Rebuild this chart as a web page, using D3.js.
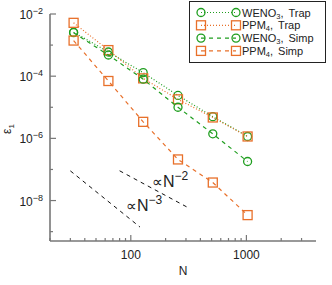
<!DOCTYPE html>
<html>
<head>
<meta charset="utf-8">
<script src="https://cdn.jsdelivr.net/npm/d3@7"></script>
<style>
  body { margin: 0; background: #fff; }
  text { font-family: "Liberation Sans", Arial, sans-serif; fill: #222; }
</style>
</head>
<body>
<div id="chart"></div>
<script>
// resolution and errors
var nValues = [32, 64, 128, 256, 512, 1024];
var wenoTrap = [2.6e-3, 6.0e-4, 1.3e-4, 2.4e-5, 5.0e-6, 1.15e-6];
var ppmTrap  = [5.2e-3, 6.9e-4, 8.5e-5, 1.8e-5, 4.7e-6, 1.15e-6];
var wenoSimp = [2.5e-3, 4.8e-4, 8.0e-5, 1.0e-5, 1.4e-6, 1.8e-7];
var ppmSimp  = [1.4e-3, 7.0e-5, 3.4e-6, 2.1e-7, 3.8e-8, 3.4e-9];

// reference slopes: c * N^-p
var slope3N = [30, 120];
var slope2N = [80, 320];

var xMajor = [100, 1000];
var xMinor = [20, 30, 40, 50, 60, 70, 80, 90, 200, 300, 400, 500, 600, 700, 800, 900, 2000, 3000];
var yMajor = [-2, -4, -6, -8];
var yMinor = [-3, -5, -7, -9];

var green = "#1f9e1f";
var orange = "#e8702a";

var series = [
  { name: "WENO", sub: "3", tail: "Trap", vals: wenoTrap, color: green, shape: "circle", dash: "1,2" },
  { name: "PPM",  sub: "4", tail: "Trap", vals: ppmTrap,  color: orange, shape: "square", dash: "1,2" },
  { name: "WENO", sub: "3", tail: "Simp", vals: wenoSimp, color: green, shape: "circle", dash: "4,4" },
  { name: "PPM",  sub: "4", tail: "Simp", vals: ppmSimp,  color: orange, shape: "square", dash: "4,4" }
];

var svgWidth = 332, svgHeight = 285;
var plotLeft = 50, plotRight = 316, plotTop = 14, plotBottom = 241;

var svg = d3.select("#chart").append("svg")
  .attr("width", svgWidth)
  .attr("height", svgHeight);

var x = d3.scaleLog().domain([20, 4000]).range([plotLeft, plotRight]);
var y = d3.scaleLog().domain([5e-10, 1e-2]).range([plotBottom, plotTop]);

var axisColor = "#777";

// axes lines
svg.append("line").attr("x1", plotLeft).attr("x2", plotLeft).attr("y1", plotTop).attr("y2", plotBottom)
  .attr("stroke", axisColor).attr("stroke-width", 1.6);
svg.append("line").attr("x1", plotLeft).attr("x2", plotRight).attr("y1", plotBottom).attr("y2", plotBottom)
  .attr("stroke", axisColor).attr("stroke-width", 1.6);

// x ticks (inward)
svg.selectAll(".xmaj").data(xMajor).enter().append("line")
  .attr("x1", d => x(d)).attr("x2", d => x(d))
  .attr("y1", plotBottom).attr("y2", plotBottom - 6)
  .attr("stroke", axisColor).attr("stroke-width", 1.2);
svg.selectAll(".xmin").data(xMinor).enter().append("line")
  .attr("x1", d => x(d)).attr("x2", d => x(d))
  .attr("y1", plotBottom).attr("y2", plotBottom - 3)
  .attr("stroke", axisColor).attr("stroke-width", 1.2);
svg.selectAll(".xlab").data(xMajor).enter().append("text")
  .attr("x", d => x(d)).attr("y", 259)
  .attr("text-anchor", "middle")
  .attr("font-size", 12)
  .text(d => d);

// y ticks (inward)
svg.selectAll(".ymaj").data(yMajor).enter().append("line")
  .attr("x1", plotLeft).attr("x2", plotLeft + 6)
  .attr("y1", d => y(Math.pow(10, d))).attr("y2", d => y(Math.pow(10, d)))
  .attr("stroke", axisColor).attr("stroke-width", 1.2);
svg.selectAll(".ymin").data(yMinor).enter().append("line")
  .attr("x1", plotLeft).attr("x2", plotLeft + 3)
  .attr("y1", d => y(Math.pow(10, d))).attr("y2", d => y(Math.pow(10, d)))
  .attr("stroke", axisColor).attr("stroke-width", 1.2);
var ylab = svg.selectAll(".ylab").data(yMajor).enter().append("text")
  .attr("x", 43).attr("y", d => y(Math.pow(10, d)) + 5)
  .attr("text-anchor", "end")
  .attr("font-size", 12);
ylab.append("tspan").text("10");
ylab.append("tspan").attr("dy", -5).attr("font-size", 9).text(d => "\u2212" + (-d));

// axis titles
svg.append("text").attr("x", 183).attr("y", 275)
  .attr("text-anchor", "middle").attr("font-size", 12).text("N");
var yt = svg.append("text")
  .attr("transform", "translate(11,129) rotate(-90)")
  .attr("text-anchor", "middle").attr("font-size", 12);
yt.append("tspan").text("\u03b5");
yt.append("tspan").attr("dy", 3).attr("font-size", 8).text("1");

// reference slopes
var ref3 = slope3N.map(n => [n, 2.43e-3 * Math.pow(n, -3)]);
var ref2 = slope2N.map(n => [n, 5.8e-4 * Math.pow(n, -2)]);
var refLine = d3.line().x(d => x(d[0])).y(d => y(d[1]));
[ref3, ref2].forEach(function(r) {
  svg.append("path").attr("d", refLine(r))
    .attr("fill", "none").attr("stroke", "#111")
    .attr("stroke-width", 1).attr("stroke-dasharray", "4,4");
});

function propLabel(px, py, p) {
  var t = svg.append("text").attr("x", px).attr("y", py);
  t.append("tspan").attr("font-size", 15).text("\u221d");
  t.append("tspan").attr("font-size", 16).text("N");
  t.append("tspan").attr("font-size", 12).attr("dy", -7).text("\u2212" + p);
}
propLabel(126, 211, 3);
propLabel(152, 187, 2);

// series
var line = d3.line().x((d, i) => x(nValues[i])).y(d => y(d));

function drawMarker(g, cx, cy, s) {
  if (s.shape === "circle") {
    g.append("circle").attr("cx", cx).attr("cy", cy).attr("r", 4)
      .attr("fill", "none").attr("stroke", s.color).attr("stroke-width", 1.3);
  } else {
    g.append("rect").attr("x", cx - 4.5).attr("y", cy - 4.5)
      .attr("width", 9).attr("height", 9)
      .attr("fill", "none").attr("stroke", s.color).attr("stroke-width", 1.3);
  }
}

series.forEach(function(s) {
  svg.append("path").attr("d", line(s.vals))
    .attr("fill", "none").attr("stroke", s.color)
    .attr("stroke-width", 1.2).attr("stroke-dasharray", s.dash);
  var g = svg.append("g");
  s.vals.forEach(function(v, i) {
    drawMarker(g, x(nValues[i]), y(v), s);
  });
});

// legend
var legend = svg.append("g");
legend.append("rect").attr("x", 189.5).attr("y", 1.5).attr("width", 136).attr("height", 61)
  .attr("fill", "#fff").attr("stroke", "#222").attr("stroke-width", 1);
series.forEach(function(s, i) {
  var ly = 12.5 + i * 12.8;
  legend.append("line").attr("x1", 201).attr("x2", 236).attr("y1", ly).attr("y2", ly)
    .attr("stroke", s.color).attr("stroke-width", 1.2).attr("stroke-dasharray", s.dash);
  drawMarker(legend, 201, ly, s);
  drawMarker(legend, 236, ly, s);
  var t = legend.append("text").attr("x", 242).attr("y", ly + 4).attr("font-size", 11);
  t.append("tspan").text(s.name);
  t.append("tspan").attr("dy", 2).attr("font-size", 7.5).text(s.sub);
  t.append("tspan").attr("dy", -2).text(",");
  t.append("tspan").attr("dx", 5).text(s.tail);
});
</script>
</body>
</html>
